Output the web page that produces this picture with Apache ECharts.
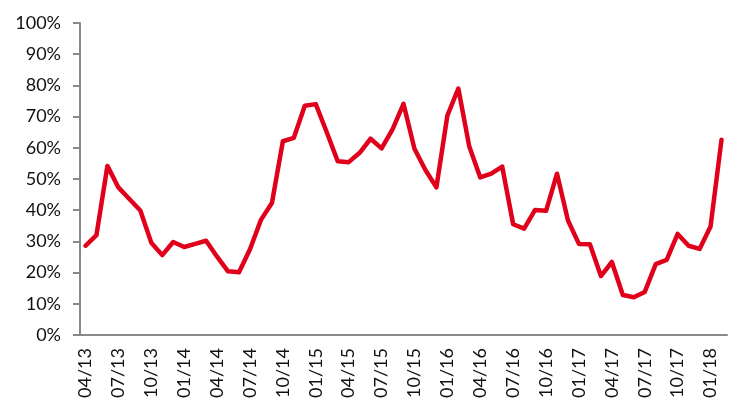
<!DOCTYPE html>
<html>
<head>
<meta charset="utf-8">
<title>Line chart</title>
<script src="https://cdn.jsdelivr.net/npm/echarts@6/dist/echarts.min.js"></script>
<style>
  html, body { margin: 0; padding: 0; background: #fff; }
  #main { width: 750px; height: 413px; }
</style>
</head>
<body>
<div id="main"></div>
<script>
  // months, 04/13 .. 02/18
  var months = [
    '04/13', '05/13', '06/13', '07/13', '08/13', '09/13', '10/13', '11/13', '12/13',
    '01/14', '02/14', '03/14', '04/14', '05/14', '06/14', '07/14', '08/14', '09/14', '10/14', '11/14', '12/14',
    '01/15', '02/15', '03/15', '04/15', '05/15', '06/15', '07/15', '08/15', '09/15', '10/15', '11/15', '12/15',
    '01/16', '02/16', '03/16', '04/16', '05/16', '06/16', '07/16', '08/16', '09/16', '10/16', '11/16', '12/16',
    '01/17', '02/17', '03/17', '04/17', '05/17', '06/17', '07/17', '08/17', '09/17', '10/17', '11/17', '12/17',
    '01/18', '02/18'
  ]

  // share, in %
  var share = [
    28.6, 32.0, 54.2, 47.3, 43.6, 39.9, 29.6, 25.6, 29.8,
    28.2, 29.2, 30.2, 25.1, 20.4, 20.1, 27.5, 36.9, 42.3, 62.1, 63.2, 73.5,
    74.0, 65.0, 55.7, 55.4, 58.4, 62.9, 59.8, 65.9, 74.1, 59.7, 52.9, 47.3,
    70.3, 79.0, 60.4, 50.5, 51.7, 54.0, 35.5, 34.1, 40.1, 39.8, 51.7, 36.7,
    29.2, 29.1, 18.9, 23.4, 12.8, 12.1, 13.8, 22.7, 24.1, 32.4, 28.6, 27.6,
    34.8, 62.6
  ]

  var yTicks = { min: 0, max: 100, step: 10 }

  var axisGrey = '#898989'
  var chart = echarts.init(document.getElementById('main'))

  chart.setOption({
    backgroundColor: '#fff',
    animation: false,
    grid: { left: 80, right: 23, top: 23, bottom: 78 },
    xAxis: {
      type: 'category',
      data: months,
      boundaryGap: true,
      axisLine: { lineStyle: { color: axisGrey, width: 2 } },
      axisTick: { interval: 2, length: 6, lineStyle: { color: axisGrey, width: 2 } },
      axisLabel: {
        interval: 2,
        rotate: 90,
        margin: 13,
        color: '#111',
        fontFamily: 'Lato',
        fontSize: 18
      },
      splitLine: { show: false }
    },
    yAxis: {
      type: 'value',
      min: yTicks.min,
      max: yTicks.max,
      interval: yTicks.step,
      axisLine: { show: true, lineStyle: { color: axisGrey, width: 2 } },
      axisTick: { show: true, length: 7, lineStyle: { color: axisGrey, width: 2 } },
      axisLabel: {
        formatter: '{value}%',
        margin: 19,
        color: '#111',
        fontFamily: 'Lato',
        fontSize: 18
      },
      splitLine: { show: false }
    },
    series: [
      {
        type: 'line',
        data: share,
        symbol: 'none',
        smooth: false,
        lineStyle: { color: '#E0001B', width: 4.5, join: 'round', cap: 'round' }
      }
    ]
  })
</script>
</body>
</html>
